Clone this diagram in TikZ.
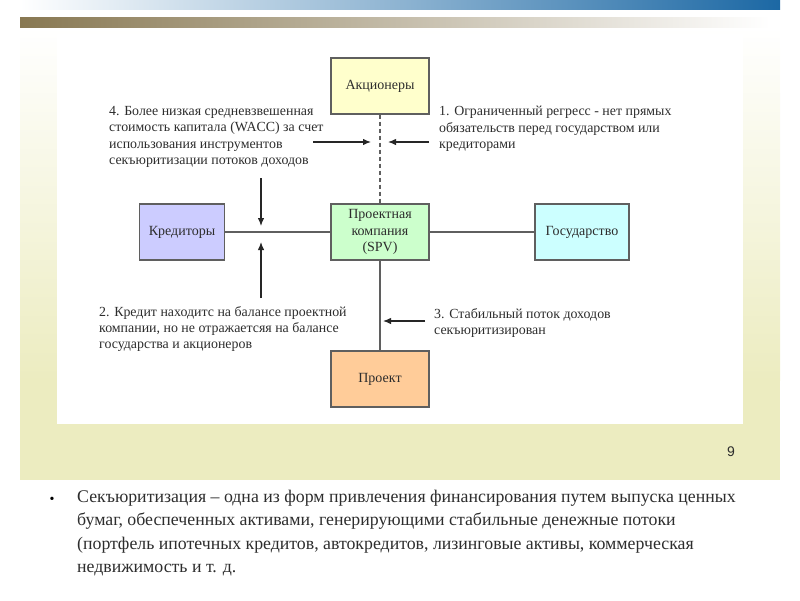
\documentclass[tikz,border=0pt]{standalone}
\usepackage{fontspec}
\setmainfont{Liberation Serif}
\newfontfamily\slidesans{Liberation Sans}
\usetikzlibrary{arrows.meta}

\definecolor{bandgreen}{RGB}{236,236,192}
\definecolor{topblue}{RGB}{28,104,164}
\definecolor{barbrown}{RGB}{136,120,82}
\definecolor{boxline}{RGB}{95,95,95}
\definecolor{textgray}{RGB}{45,45,45}
\definecolor{holdyellow}{RGB}{255,255,204}
\definecolor{credblue}{RGB}{204,204,255}
\definecolor{spvgreen}{RGB}{204,255,204}
\definecolor{statecyan}{RGB}{204,255,255}
\definecolor{projorange}{RGB}{255,204,153}

\begin{document}
\begin{tikzpicture}
    [
      x=1pt,y=-1pt,
      party/.style={draw=boxline,line width=1.1pt,rectangle,minimum height=56pt,
        minimum width=98pt,align=center,text=textgray,
        font=\fontsize{14}{16.5}\selectfont},
      link/.style={draw=boxline,line width=1.1pt},
      note/.style={anchor=north west,inner sep=0pt,align=left,text=textgray,
        font=\fontsize{13.9}{16.4}\selectfont},
      effect/.style={-{Latex[length=8pt,width=6.5pt]},line width=1.2pt,draw=black!85}
    ]

    \useasboundingbox (0,0) rectangle (800,600);

    \shade [left color=white,right color=topblue] (20,0) rectangle (780,9);
    \shade [left color=barbrown,right color=white] (20,17) rectangle (770,27);
    \shade [top color=white,bottom color=bandgreen] (20,28) rectangle (780,380);
    \fill [bandgreen] (20,379) rectangle (780,480);
    \fill [white] (57,34) rectangle (743,424);

    \node at (380,86) [party,fill=holdyellow] (holders) {Акционеры};
    \node at (182,232) [party,fill=credblue,minimum width=85pt] (creditors) {Кредиторы};
    \node at (380,232) [party,fill=spvgreen] (spv) {Проектная\\компания\\(SPV)};
    \node at (582,232) [party,fill=statecyan,minimum width=94pt] (state) {Государство};
    \node at (380,379) [party,fill=projorange] (project) {Проект};

    \draw [link] (creditors) -- (spv);
    \draw [link] (spv) -- (state);
    \draw [link] (spv) -- (project);
    \draw [link,dash pattern=on 4pt off 3pt] (holders) -- (spv);

    \node at (109,106) [note] (waccnote) {4. Более низкая средневзвешенная\\
      стоимость капитала (WACC) за счет\\использования инструментов\\
      секъюритизации потоков доходов};
    \node at (439,106) [note] (recoursenote) {1. Ограниченный регресс - нет прямых\\
      обязательств перед государством или\\кредиторами};
    \node at (99,306) [note] (balancenote) {2. Кредит находитс на балансе проектной\\
      компании, но не отражаетсяя на балансе\\государства и акционеров};
    \node at (434,308) [note] (flownote) {3. Стабильный поток доходов\\
      секъюритизирован};

    \coordinate (wacc start) at (313,142);
    \coordinate (wacc end) at (371,142);
    \coordinate (recourse start) at (429,142);
    \coordinate (recourse end) at (388,142);
    \coordinate (down start) at (261,178);
    \coordinate (down end) at (261,226);
    \coordinate (up start) at (261,298);
    \coordinate (up end) at (261,242);
    \coordinate (flow start) at (425,321);
    \coordinate (flow end) at (383,321);

    \draw [effect] (wacc start) -- (wacc end);
    \draw [effect] (recourse start) -- (recourse end);
    \draw [effect] (down start) -- (down end);
    \draw [effect] (up start) -- (up end);
    \draw [effect] (flow start) -- (flow end);

    \node at (731,452) [text=textgray,font=\slidesans\fontsize{14}{16}\selectfont] (pagenum) {9};

    \node at (52,500) [text=black,font=\fontsize{14}{14}\selectfont] (bullet) {•};
    \node at (77,490) [anchor=north west,inner sep=0pt,align=left,text=textgray,
      font=\fontsize{17.8}{23.4}\selectfont] (summary)
      {Секъюритизация – одна из форм привлечения финансирования путем выпуска ценных\\
      бумаг, обеспеченных активами, генерирующими стабильные денежные потоки\\
      (портфель ипотечных кредитов, автокредитов, лизинговые активы, коммерческая\\
      недвижимость и т. д.};
  \end{tikzpicture}
\end{document}
